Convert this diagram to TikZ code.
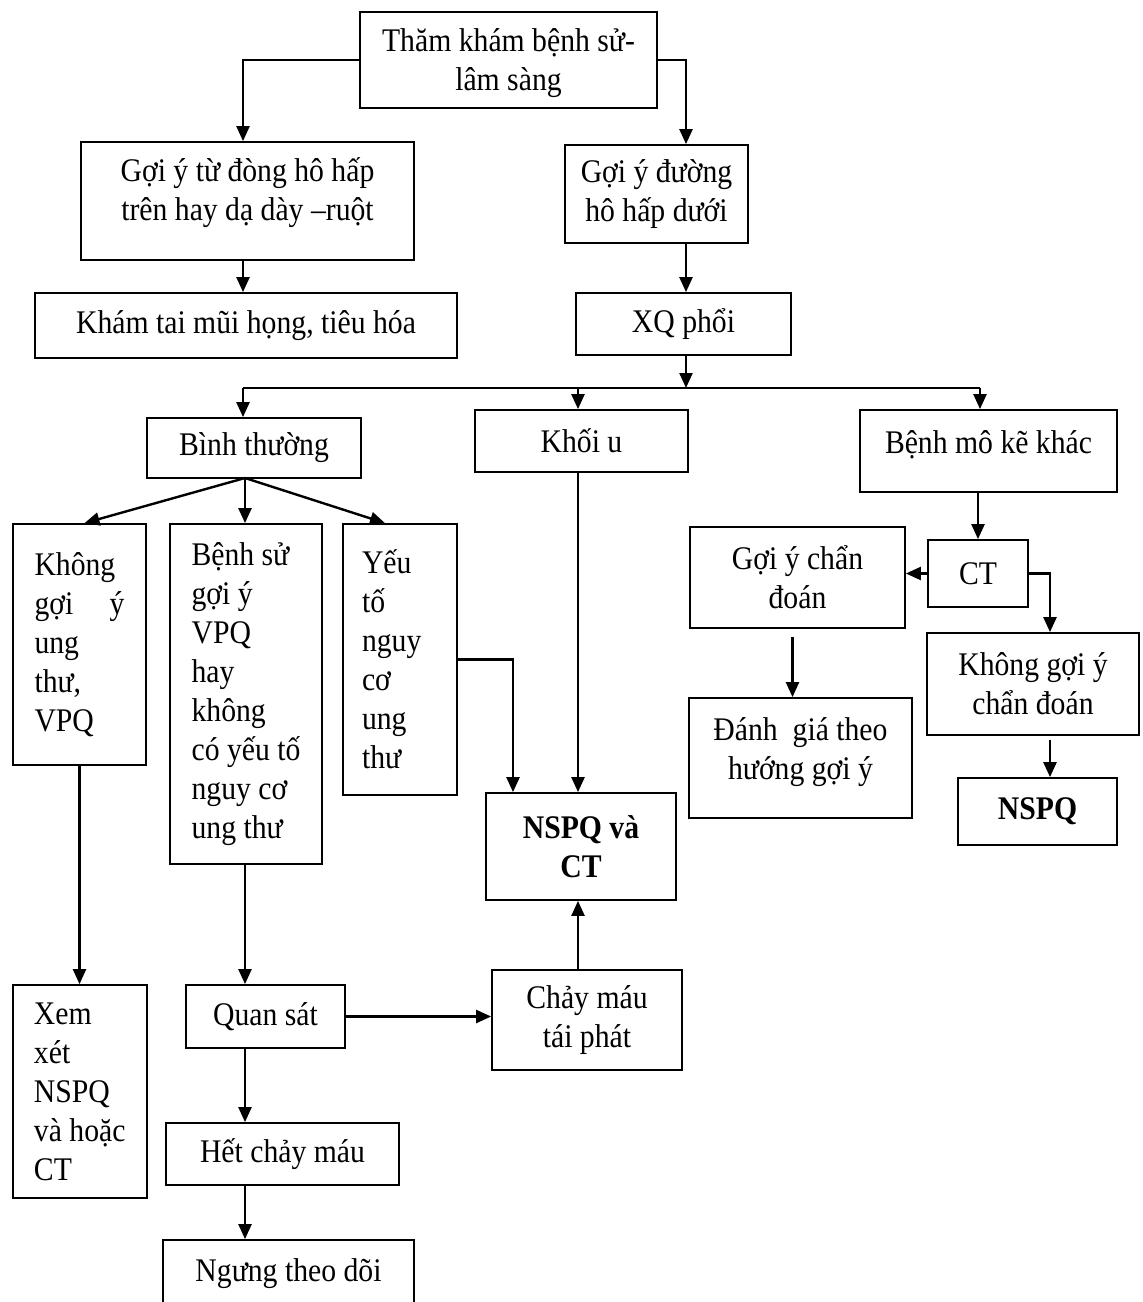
\documentclass[tikz,border=0pt]{standalone}
\usepackage{fontspec}
\setmainfont{Liberation Serif}[FakeStretch=0.9]
\usetikzlibrary{arrows.meta}
\newcommand\diagfont{\fontsize{33}{39}\selectfont}
\begin{document}
\begin{tikzpicture}[x=1pt,y=-1pt,
  box/.style={draw, line width=1.8pt, inner sep=0pt, align=center, font=\diagfont},
  lbox/.style={box, align=left},
  txt/.style={inner sep=0pt, align=center, font=\diagfont},
  ln/.style={line width=2.2pt},
  arr/.style={line width=2.4pt, -{Triangle[length=15pt,width=13pt]}}
]
\useasboundingbox (0,0) rectangle (1143,1302);
\clip (0,0) rectangle (1143,1302);
\fill[white] (0,0) rectangle (1143,1302);

% boxes
\node[box, minimum width=297pt, minimum height=96pt] (top) at (508.5,60) {};
\node[txt] (topt) at ([yshift=-3pt]top.center) {Thăm khám bệnh sử-\\lâm sàng};
\node[box, minimum width=333pt, minimum height=118pt] (g1) at (247.5,201) {};
\node[txt] (g1t) at ([yshift=8pt]g1.center) {Gợi ý từ đòng hô hấp\\trên hay dạ dày –ruột};
\node[box, minimum width=422pt, minimum height=65pt] (kh) at (246,325.5) {Khám tai mũi họng, tiêu hóa};
\node[box, minimum width=183pt, minimum height=98pt] (g2) at (656.5,194) {Gợi ý đường\\hô hấp dưới};
\node[box, minimum width=215pt, minimum height=62pt] (xq) at (683.5,324) {XQ phổi};
\node[box, minimum width=214pt, minimum height=60pt] (bt) at (254,448) {Bình thường};
\node[box, minimum width=213pt, minimum height=62pt] (ku) at (581.5,441) {Khối u};
\node[box, minimum width=257pt, minimum height=82pt] (bm) at (988.5,451) {};
\node[txt] (bmt) at ([yshift=6pt]bm.center) {Bệnh mô kẽ khác};
\node[lbox, minimum width=133pt, minimum height=241pt] (kgy) at (79.5,644.5)
  {Không\\\makebox[90pt][s]{gợi ý}\\ung\\thư,\\VPQ};
\node[lbox, minimum width=152pt, minimum height=340pt] (bs) at (246,694)
  {Bệnh sử\\gợi ý\\VPQ\\hay\\không\\có yếu tố\\nguy cơ\\ung thư};
\node[lbox, minimum width=114pt, minimum height=271pt] (yt) at (400,659.5)
  {\makebox[76pt][l]{Yếu}\\tố\\nguy\\cơ\\ung\\thư};
\node[box, minimum width=190pt, minimum height=107pt] (nct) at (581,846.5) {\bfseries NSPQ và\\\bfseries CT};
\node[box, minimum width=100pt, minimum height=67pt] (ct) at (978,573.5) {CT};
\node[box, minimum width=215pt, minimum height=101pt] (gcd) at (797.5,577.5) {Gợi ý chẩn\\đoán};
\node[box, minimum width=212pt, minimum height=102pt] (kgcd) at (1033,684) {Không gợi ý\\chẩn đoán};
\node[box, minimum width=159pt, minimum height=67pt] (nspq) at (1037.5,811.5) {\bfseries NSPQ};
\node[box, minimum width=223pt, minimum height=120pt] (dg) at (800.5,758) {};
\node[txt] (dgt) at ([yshift=6pt]dg.center) {Đánh\ \ giá theo\\hướng gợi ý};
\node[lbox, minimum width=134pt, minimum height=213pt] (xx) at (80,1091.5)
  {\makebox[92pt][l]{Xem}\\xét\\NSPQ\\và hoặc\\CT};
\node[box, minimum width=159pt, minimum height=63pt] (qs) at (265.5,1016.5) {Quan sát};
\node[box, minimum width=190pt, minimum height=100pt] (cm) at (587,1020) {Chảy máu\\tái phát};
\node[box, minimum width=233pt, minimum height=62pt] (hc) at (282.5,1154) {Hết chảy máu};
\node[box, minimum width=251pt, minimum height=68pt] (ng) at (288.5,1274) {Ngưng theo dõi};

% bus coordinates
\coordinate (c1) at (686,0);
\coordinate (b1) at (243,388);
\coordinate (b2) at (578,388);
\coordinate (b3) at (980,388);
\coordinate (bts) at (245,478);

% connectors
\draw[arr] (top.west) -| (b1 |- g1.north);
\draw[arr] (top.east) -| (c1 |- g2.north);
\draw[arr] (b1 |- g1.south) -- (b1 |- kh.north);
\draw[arr] (c1 |- g2.south) -- (c1 |- xq.north);
\draw[arr] (c1 |- xq.south) -- (c1 |- b1);
\draw[ln] (b1) -- (b3);
\draw[arr] (b1) -- (b1 |- bt.north);
\draw[arr] (b2) -- (b2 |- ku.north);
\draw[arr] (b3) -- (b3 |- bm.north);
\draw[arr] (bts) -- ([xshift=5pt]kgy.north);
\draw[arr] (bts) -- (bts |- bs.north);
\draw[arr] (bts) -- ([xshift=-15pt]yt.north);
\draw[arr] (yt.east) -| ([xshift=-68pt]nct.north);
\draw[arr] (b2 |- ku.south) -- (b2 |- nct.north);
\draw[arr] (ct.north |- bm.south) -- (ct.north);
\draw[arr] (ct.west) -- (ct.west -| gcd.east);
\draw[arr] (ct.east) -| ([xshift=17pt]kgcd.north);
\draw[arr, shorten <=4pt] ([xshift=17pt]kgcd.south) -- ([xshift=17pt]kgcd.south |- nspq.north);
\draw[arr, shorten <=8pt] ([xshift=-5pt]gcd.south) -- ([xshift=-5pt]gcd.south |- dg.north);
\draw[arr] (kgy.south) -- (kgy.south |- xx.north);
\draw[arr] (bts |- bs.south) -- (bts |- qs.north);
\draw[arr] (qs.east) -- (qs.east -| cm.west);
\draw[arr] (b2 |- cm.north) -- (b2 |- nct.south);
\draw[arr] (bts |- qs.south) -- (bts |- hc.north);
\draw[arr] (bts |- hc.south) -- (bts |- ng.north);
\end{tikzpicture}
\end{document}
